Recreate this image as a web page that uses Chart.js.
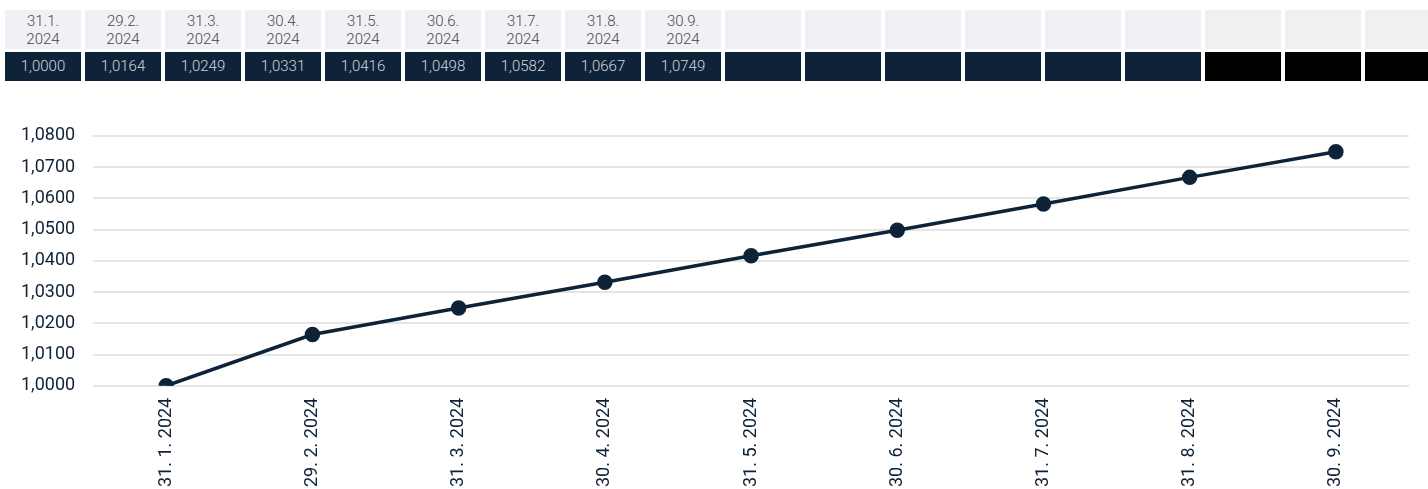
<!DOCTYPE html>
<html>
<head>
<meta charset="utf-8">
<script src="https://cdn.jsdelivr.net/npm/chart.js@4.4.1/dist/chart.umd.min.js"></script>
<style>
  html, body { margin: 0; padding: 0; background: #fff; overflow: hidden; }
  body { width: 1428px; height: 489px; position: relative; font-family: Roboto, "Noto Sans", sans-serif; }
  #table { position: absolute; left: 0; top: 0; }
  .cell { position: absolute; width: 76px; box-sizing: border-box; text-align: center; font-weight: 300; }
  .head { top: 10px; height: 39px; background: #f0f0f5; color: #454a56; font-size: 15px; line-height: 18px; padding-top: 2px; }
  .val { top: 52px; height: 29px; background: #0f2338; color: #d2d6dc; font-size: 15px; line-height: 29px; }
  .head.off { background: #f0f0f0; }
  .val.off { background: #000; }
  #wrap { position: absolute; left: 0; top: 107px; width: 1428px; height: 392px; }
</style>
</head>
<body>
<div id="table"></div>
<div id="wrap"><canvas id="indexChart"></canvas></div>
<script>
// Data for the chart
const dates = ["31. 1. 2024", "29. 2. 2024", "31. 3. 2024", "30. 4. 2024", "31. 5. 2024",
  "30. 6. 2024", "31. 7. 2024", "31. 8. 2024", "30. 9. 2024"];
const headerLabels = ["31.1.", "29.2.", "31.3.", "30.4.", "31.5.", "30.6.", "31.7.", "31.8.", "30.9."];
const headerYear = "2024";
const values = [1.0000, 1.0164, 1.0249, 1.0331, 1.0416, 1.0498, 1.0582, 1.0667, 1.0749];
const columnCount = 18;   // table columns incl. empty ones
const offFrom = 15;       // last columns drawn black

const fmt = (v) => Number(v).toFixed(4).replace(".", ",");

// table on top
const table = document.getElementById("table");
for (let i = 0; i < columnCount; i++) {
  const left = 5 + i * 80;
  const h = document.createElement("div");
  h.className = "cell head" + (i >= offFrom ? " off" : "");
  h.style.left = left + "px";
  if (i < headerLabels.length) h.innerHTML = headerLabels[i] + "<br>" + headerYear;
  table.appendChild(h);
  const v = document.createElement("div");
  v.className = "cell val" + (i >= offFrom ? " off" : "");
  v.style.left = left + "px";
  if (i < values.length) v.textContent = fmt(values[i]);
  table.appendChild(v);
}

const ctx = document.getElementById("indexChart").getContext("2d");

new Chart(ctx, {
  type: "line",
  data: {
    labels: dates,
    datasets: [
      {
        data: values,
        borderColor: "#0f2338",
        backgroundColor: "#0f2338",
        borderWidth: 3.5,
        tension: 0,
        pointBackgroundColor: "#0f2338",
        pointBorderColor: "#0f2338",
        pointRadius: 6,
        pointHoverRadius: 6,
      },
    ],
  },
  options: {
    responsive: true,
    maintainAspectRatio: false,
    animation: false,
    layout: { padding: { top: 12, left: 3, right: 19, bottom: 0 } },
    plugins: {
      legend: { display: false },
      tooltip: { enabled: false },
    },
    scales: {
      x: {
        offset: true,
        grid: { display: false, drawTicks: false },
        border: { display: false },
        ticks: {
          color: "#0f2338",
          minRotation: 90,
          maxRotation: 90,
          padding: 12,
          font: { family: "Roboto", size: 18 },
        },
      },
      y: {
        min: 1.0,
        max: 1.08,
        grid: { color: "#e5e5e5", lineWidth: 2, drawTicks: false },
        border: { display: false },
        ticks: {
          stepSize: 0.01,
          color: "#0f2338",
          padding: 18,
          font: { family: "Roboto", size: 18 },
          callback: (v) => fmt(v),
        },
      },
    },
  },
});
</script>
</body>
</html>
